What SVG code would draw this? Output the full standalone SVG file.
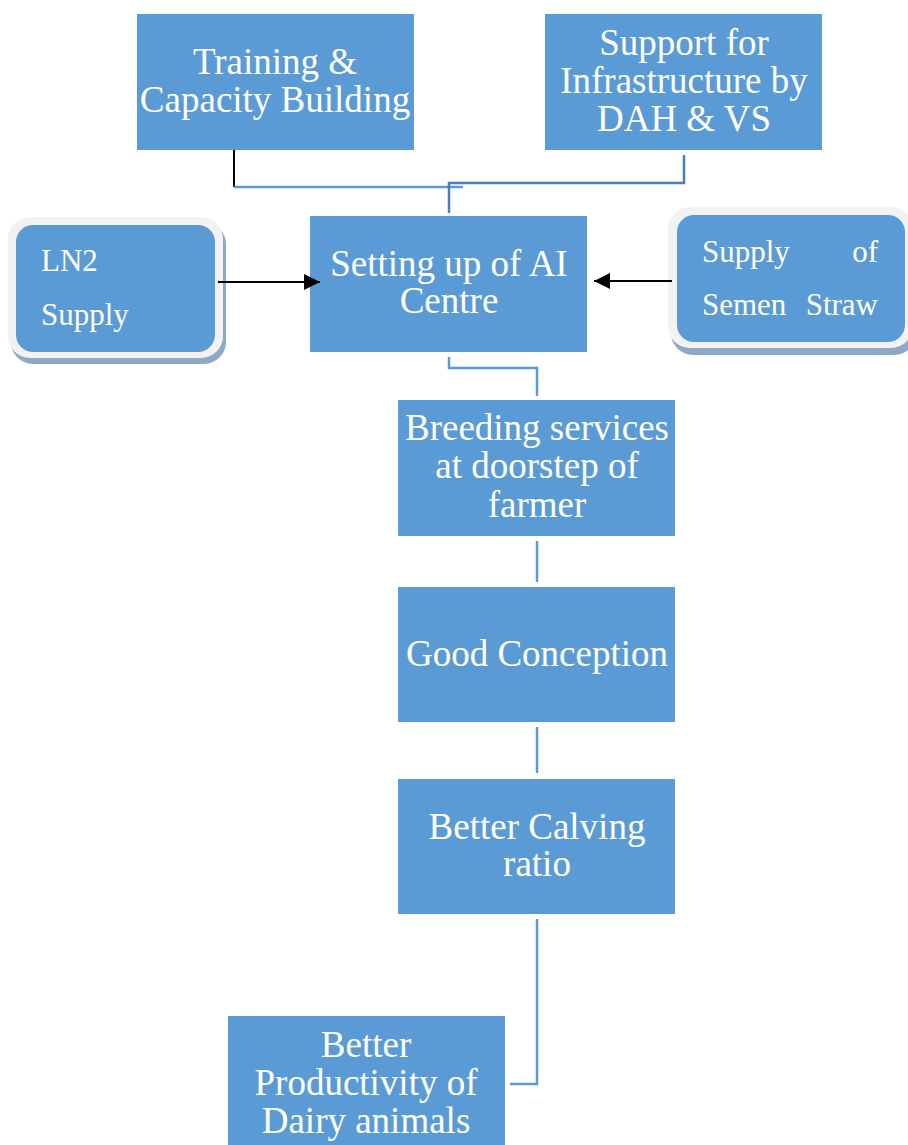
<svg xmlns="http://www.w3.org/2000/svg" width="908" height="1145" viewBox="0 0 908 1145">
<defs>
<style>
.box{fill:#5b9bd5;}
.t{font-family:"Liberation Serif","Times New Roman",serif;font-size:37px;fill:#ffffff;text-anchor:middle;}
.s{font-family:"Liberation Serif","Times New Roman",serif;font-size:31px;fill:#ffffff;}
.c{fill:none;stroke:#5b9bd5;stroke-width:2.5;}
.cd{fill:none;stroke:#4a7ebb;stroke-width:2.5;}
.blk{fill:none;stroke:#000000;stroke-width:2;}
.rim{fill:#f2f2f2;}
.shd{fill:#8ea9c8;}
</style>
<marker id="arr" viewBox="0 0 16 16" refX="16" refY="8" markerWidth="16" markerHeight="16" markerUnits="userSpaceOnUse" orient="auto">
<path d="M0,0 L16,8 L0,16 z" fill="#000000"/>
</marker>
</defs>
<rect width="908" height="1145" fill="#ffffff"/>
<g id="training">
<rect class="box" x="137" y="14" width="277" height="136"/>
<text class="t" x="275" y="74">Training &amp;</text>
<text class="t" x="275" y="112">Capacity Building</text>
</g>
<g id="support">
<rect class="box" x="545" y="14" width="277" height="136"/>
<text class="t" x="684" y="55">Support for</text>
<text class="t" x="684" y="93">Infrastructure by</text>
<text class="t" x="684" y="131">DAH &amp; VS</text>
</g>
<g id="ln2">
<rect class="shd" x="11" y="222" width="215" height="142" rx="22"/>
<rect class="rim" x="8" y="217" width="215" height="141" rx="22"/>
<rect class="box" x="16" y="225" width="199" height="127" rx="17"/>
<text class="s" x="41" y="271">LN2</text>
<text class="s" x="41" y="325">Supply</text>
</g>
<g id="ai">
<rect class="box" x="310" y="216" width="277" height="136"/>
<text class="t" x="449" y="276">Setting up of AI</text>
<text class="t" x="449" y="313">Centre</text>
</g>
<g id="semen">
<rect class="shd" x="671" y="212" width="245" height="143" rx="22"/>
<rect class="rim" x="668" y="207" width="245" height="141" rx="22"/>
<rect class="box" x="677" y="215" width="228" height="127" rx="17"/>
<text class="s" x="702" y="262">Supply</text>
<text class="s" x="878" y="262" text-anchor="end">of</text>
<text class="s" x="702" y="315">Semen</text>
<text class="s" x="878" y="315" text-anchor="end">Straw</text>
</g>
<g id="breeding">
<rect class="box" x="398" y="400" width="277" height="136"/>
<text class="t" x="537" y="440">Breeding services</text>
<text class="t" x="537" y="478">at doorstep of</text>
<text class="t" x="537" y="517">farmer</text>
</g>
<g id="good">
<rect class="box" x="398" y="587" width="277" height="135"/>
<text class="t" x="537" y="666">Good Conception</text>
</g>
<g id="calving">
<rect class="box" x="398" y="779" width="277" height="135"/>
<text class="t" x="537" y="839">Better Calving</text>
<text class="t" x="537" y="876">ratio</text>
</g>
<g id="productivity">
<rect class="box" x="228" y="1016" width="277" height="135"/>
<text class="t" x="366" y="1057">Better</text>
<text class="t" x="366" y="1095">Productivity of</text>
<text class="t" x="366" y="1133">Dairy animals</text>
</g>
<g id="connectors">
<path class="blk" d="M234,150 V187"/>
<path class="c" d="M234,187 H463"/>
<path class="cd" d="M684,155 V183 H449 V213"/>
<path class="blk" d="M218,282 H320" marker-end="url(#arr)"/>
<path class="blk" d="M672,281 H594" marker-end="url(#arr)"/>
<path class="c" d="M449,357 V368 H537 V396"/>
<path class="c" d="M537,541 V582"/>
<path class="c" d="M537,727 V773"/>
<path class="c" d="M537,919 V1084 H510"/>
</g>
</svg>
